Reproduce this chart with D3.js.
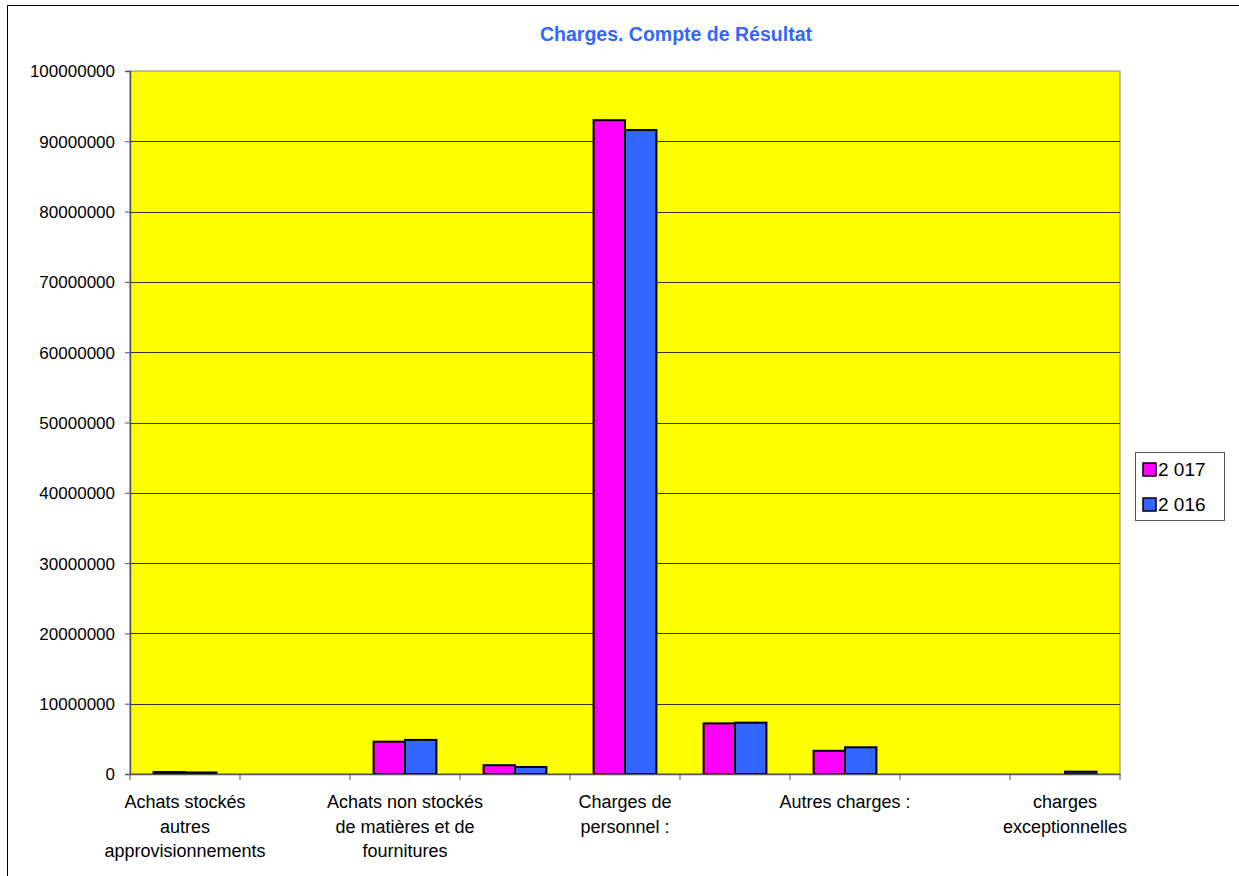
<!DOCTYPE html>
<html lang="fr">
<head>
  <meta charset="UTF-8">
  <title>Charges. Compte de Résultat</title>
  <script src="https://d3js.org/d3.v7.min.js"></script>
  <style>
    body { margin: 0; background: #fff; font-family: "Liberation Sans", Arial, sans-serif; }
    svg { display: block; }
    .tick text { fill: #000; font-family: "Liberation Sans", Arial, sans-serif; }
    .grid line { stroke: #333; stroke-width: 1px; }
  </style>
</head>
<body>
<svg width="1239" height="876"></svg>
<script>
  // categories: hidden ones are not labelled in the picture (Excel skips every other label)
  const categories = [
    "Achats stockés autres approvisionnements",
    "Variation de stocks",
    "Achats non stockés de matières et de fournitures",
    "Impôts, taxes et versements assimilés",
    "Charges de personnel :",
    "Dotations aux amortissements",
    "Autres charges :",
    "Charges financières",
    "charges exceptionnelles"
  ];
  const seriesNames = ["2 017", "2 016"];
  const values2017 = [280000, 0, 4600000, 1250000, 93000000, 7200000, 3300000, 0, 0];
  const values2016 = [220000, 0, 4850000, 1000000, 91600000, 7300000, 3800000, 0, 330000];
  const yTicks = [0, 10000000, 20000000, 30000000, 40000000, 50000000, 60000000, 70000000, 80000000, 90000000, 100000000];
  const colors = ["#ff00ff", "#3366ff"];

  const plotL = 130, plotR = 1120, plotT = 71, plotB = 774;
  const svg = d3.select("svg");

  // chart border
  svg.append("rect").attr("x", 7.5).attr("y", 5.5).attr("width", 1240).attr("height", 880)
    .attr("fill", "#fff").attr("stroke", "#000");

  svg.append("text").attr("x", 676).attr("y", 41).attr("text-anchor", "middle")
    .attr("font-size", 19.5).attr("font-weight", "bold").attr("fill", "#3366ff")
    .text("Charges. Compte de Résultat");

  const x = d3.scaleBand().domain(categories).range([plotL, plotR]).paddingInner(0).paddingOuter(0);
  const bw = x.bandwidth() / 3.5;
  const y = d3.scaleLinear().domain([0, 100000000]).range([plotB, plotT]);

  // plot area
  svg.append("rect").attr("x", plotL).attr("y", plotT).attr("width", plotR - plotL).attr("height", plotB - plotT)
    .attr("fill", "#ffff00").attr("stroke", "#888").attr("stroke-width", 1);

  svg.append("g").attr("class", "grid")
    .selectAll("line").data(yTicks.slice(1, -1)).join("line")
    .attr("x1", plotL).attr("x2", plotR)
    .attr("y1", d => Math.round(y(d)) + 0.5).attr("y2", d => Math.round(y(d)) + 0.5);

  const series = [values2017, values2016];
  series.forEach((vals, s) => {
    svg.append("g").selectAll("rect").data(categories).join("rect")
      .attr("x", (d, i) => x(d) + x.bandwidth() / 2 - bw + s * bw)
      .attr("y", (d, i) => y(vals[i]))
      .attr("width", bw)
      .attr("height", (d, i) => plotB - y(vals[i]))
      .attr("fill", colors[s])
      .attr("stroke", "#000").attr("stroke-width", 2)
      .style("display", (d, i) => vals[i] > 0 ? null : "none");
  });

  // y axis
  const yAxis = svg.append("g").attr("transform", `translate(${plotL},0)`)
    .call(d3.axisLeft(y).tickValues(yTicks).tickFormat(d3.format("d")).tickSize(5).tickPadding(10));
  yAxis.selectAll("line, path").attr("stroke", "#555");
  yAxis.select(".domain").attr("stroke-width", 1.5);
  yAxis.selectAll("text").attr("dy", "0.35em").attr("font-size", 17);

  // x axis
  const xAxis = svg.append("g").attr("transform", `translate(0,${plotB})`)
    .call(d3.axisBottom(x).tickSize(0).tickFormat((d, i) => i % 2 ? "" : d));
  xAxis.selectAll(".tick line").remove();
  xAxis.select(".domain").attr("stroke", "#555").attr("stroke-width", 1.5);
  xAxis.selectAll(".xt").data(d3.range(categories.length + 1)).join("line")
    .attr("class", "xt")
    .attr("x1", i => plotL + i * x.step()).attr("x2", i => plotL + i * x.step())
    .attr("y1", 0).attr("y2", 6).attr("stroke", "#555");

  xAxis.selectAll(".tick text").attr("font-size", 18).each(function () {
    const t = d3.select(this);
    const words = t.text().split(/\s+/).filter(w => w);
    if (!words.length) return;
    t.text(null).attr("y", 0).attr("dy", null);
    let line = [], lineNo = 0;
    let tspan = t.append("tspan").attr("x", 0).attr("y", 34);
    words.forEach(w => {
      line.push(w);
      tspan.text(line.join(" "));
      if (tspan.node().getComputedTextLength() > 166 && line.length > 1) {
        line.pop();
        tspan.text(line.join(" "));
        line = [w];
        lineNo++;
        tspan = t.append("tspan").attr("x", 0).attr("y", 34 + lineNo * 24.5).text(w);
      }
    });
  });

  // legend
  const lg = svg.append("g").attr("transform", "translate(1135,452)");
  lg.append("rect").attr("x", 0.5).attr("y", 0.5).attr("width", 89).attr("height", 68)
    .attr("fill", "#fff").attr("stroke", "#555");
  seriesNames.forEach((n, i) => {
    lg.append("rect").attr("x", 8).attr("y", 11 + i * 35).attr("width", 13).attr("height", 13)
      .attr("fill", colors[i]).attr("stroke", "#000").attr("stroke-width", 1.5);
    lg.append("text").attr("x", 23).attr("y", 24 + i * 35).attr("font-size", 19).text(n);
  });
</script>
</body>
</html>
